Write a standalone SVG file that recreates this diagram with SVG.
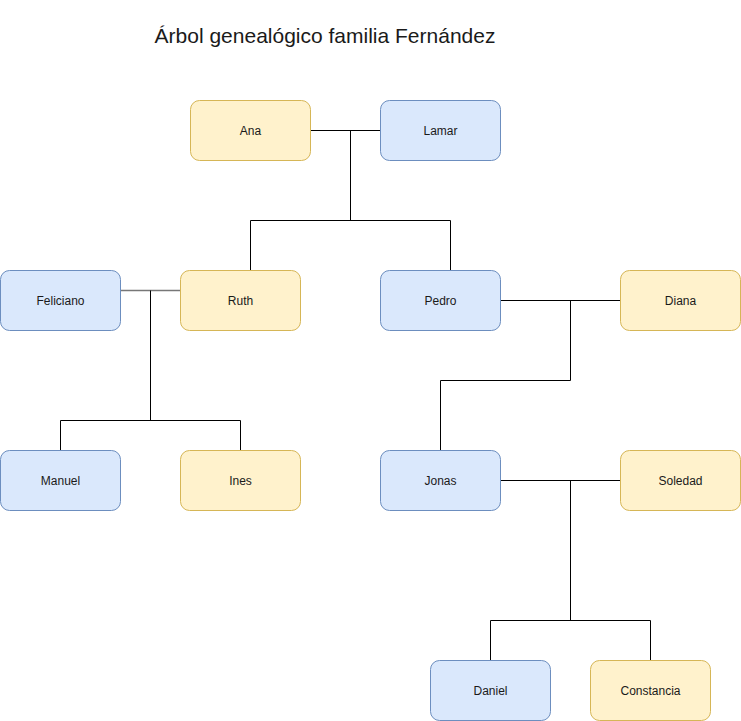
<svg xmlns="http://www.w3.org/2000/svg" width="741" height="721" viewBox="0 0 741 721">
<style>
.b{fill:#dae8fc;stroke:#6c8ebf;stroke-width:1}
.y{fill:#fff2cc;stroke:#d6b656;stroke-width:1}
.t{font-family:"Liberation Sans",Arial,sans-serif;font-size:12px;fill:#1a1a1a;text-anchor:middle}
.c{fill:none;stroke:#000;stroke-width:1}
</style>
<rect width="741" height="721" fill="#fff"/>
<text x="325" y="43" style="font-family:'Liberation Sans',Arial,sans-serif;font-size:21px;fill:#1a1a1a;text-anchor:middle">Árbol genealógico familia Fernández</text>
<g id="connectors">
<path class="c" d="M310.5 130.5H380.5M350.5 130.5V220.5M250.5 220.5H450.5M250.5 220.5V270.5M450.5 220.5V270.5"/>
<path class="c" style="stroke:#777;stroke-width:1.6" d="M120.5 290.5H180.5"/>
<path class="c" d="M150.5 290.5V420.5M60.5 420.5H240.5M60.5 420.5V450.5M240.5 420.5V450.5"/>
<path class="c" d="M500.5 300.5H620.5M570.5 300.5V380.5M440.5 380.5H570.5M440.5 380.5V450.5"/>
<path class="c" d="M500.5 480.5H620.5M570.5 480.5V620.5M490.5 620.5H650.5M490.5 620.5V660.5M650.5 620.5V660.5"/>
</g>
<g id="ana"><rect class="y" x="190.5" y="100.5" width="120" height="60" rx="9"/><text class="t" x="250.5" y="134.5">Ana</text></g>
<g id="lamar"><rect class="b" x="380.5" y="100.5" width="120" height="60" rx="9"/><text class="t" x="440.5" y="134.5">Lamar</text></g>
<g id="feliciano"><rect class="b" x="0.5" y="270.5" width="120" height="60" rx="9"/><text class="t" x="60.5" y="304.5">Feliciano</text></g>
<g id="ruth"><rect class="y" x="180.5" y="270.5" width="120" height="60" rx="9"/><text class="t" x="240.5" y="304.5">Ruth</text></g>
<g id="pedro"><rect class="b" x="380.5" y="270.5" width="120" height="60" rx="9"/><text class="t" x="440.5" y="304.5">Pedro</text></g>
<g id="diana"><rect class="y" x="620.5" y="270.5" width="120" height="60" rx="9"/><text class="t" x="680.5" y="304.5">Diana</text></g>
<g id="manuel"><rect class="b" x="0.5" y="450.5" width="120" height="60" rx="9"/><text class="t" x="60.5" y="484.5">Manuel</text></g>
<g id="ines"><rect class="y" x="180.5" y="450.5" width="120" height="60" rx="9"/><text class="t" x="240.5" y="484.5">Ines</text></g>
<g id="jonas"><rect class="b" x="380.5" y="450.5" width="120" height="60" rx="9"/><text class="t" x="440.5" y="484.5">Jonas</text></g>
<g id="soledad"><rect class="y" x="620.5" y="450.5" width="120" height="60" rx="9"/><text class="t" x="680.5" y="484.5">Soledad</text></g>
<g id="daniel"><rect class="b" x="430.5" y="660.5" width="120" height="60" rx="9"/><text class="t" x="490.5" y="694.5">Daniel</text></g>
<g id="constancia"><rect class="y" x="590.5" y="660.5" width="120" height="60" rx="9"/><text class="t" x="650.5" y="694.5">Constancia</text></g>
</svg>
